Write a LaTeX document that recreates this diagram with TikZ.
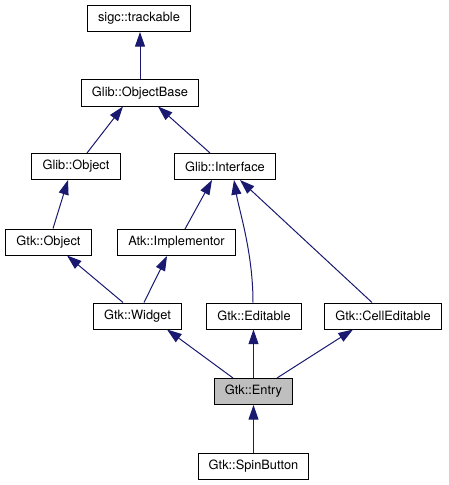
\documentclass[tikz,border=0pt]{standalone}
\usepackage{fontspec}
\setmainfont{TeX Gyre Heros}
\usetikzlibrary{calc,arrows.meta}
\definecolor{edge-blue}{HTML}{191970}
\definecolor{cur-fill}{HTML}{BFBFBF}

\begin{document}
\begin{tikzpicture}[x=0.75pt, y=-0.75pt,
    cls/.style={draw=black, line width=0.75pt, fill=white, minimum height=19.5pt,
        inner xsep=8pt, font=\fontsize{9.6}{11}\selectfont},
    inh/.style={edge-blue, line width=0.75pt, -{Triangle[length=11pt, width=7.5pt]}}]

    \useasboundingbox (0,0) rectangle (449,485);

    % Classes, top to bottom
    \node[cls] (trackable) at (139,18.5) {sigc::trackable};
    \node[cls] (objbase) at (140,93) {Glib::ObjectBase};
    \node[cls] (gobject) at (76,166.5) {Glib::Object};
    \node[cls] (giface) at (225,166.5) {Glib::Interface};
    \node[cls] (gtkobject) at (48.5,242) {Gtk::Object};
    \node[cls] (atkimpl) at (176.5,242.5) {Atk::Implementor};
    \node[cls] (widget) at (137.5,316) {Gtk::Widget};
    \node[cls] (editable) at (254,316) {Gtk::Editable};
    \node[cls] (celled) at (383,316) {Gtk::CellEditable};
    \node[cls, fill=cur-fill] (entry) at (253.5,391.5) {Gtk::Entry};
    \node[cls] (spin) at (253.5,466) {Gtk::SpinButton};

    % Inheritance edges (child -> parent)
    \draw[inh] (objbase.north) -- (objbase.north |- trackable.south);
    \draw[inh] ($(gobject.north)+(11,0)$) -- ($(objbase.south)+(-17,0)$);
    \draw[inh] ($(giface.north)+(-15,0)$) -- ($(objbase.south)+(18,0)$);
    \draw[inh] ($(gtkobject.north)+(4.5,0)$) -- ($(gobject.south)+(-8,0)$);
    \draw[inh] ($(atkimpl.north)+(8.5,0)$) -- ($(giface.south)+(-13,0)$);
    \draw[inh] ($(editable.north)+(-1,0)$) .. controls ($(editable.north)+(-1,-50)$)
        and ($(giface.south)+(14,30)$) .. ($(giface.south)+(9,0)$);
    \draw[inh] ($(celled.north)+(-11,0)$) -- ($(giface.south)+(15,0)$);
    \draw[inh] ($(widget.north)+(-14.5,0)$) -- ($(gtkobject.south)+(18.5,0)$);
    \draw[inh] ($(widget.north)+(6.5,0)$) -- ($(atkimpl.south)+(-9.5,0)$);
    \draw[inh] ($(entry.north)+(-20.5,0)$) -- ($(widget.south)+(29.5,0)$);
    \draw[inh] (entry.north) -- (entry.north |- editable.south);
    \draw[inh] ($(entry.north)+(23.5,0)$) -- ($(celled.south)+(-30,0)$);
    \draw[inh] (spin.north) -- (entry.south);
\end{tikzpicture}
\end{document}
